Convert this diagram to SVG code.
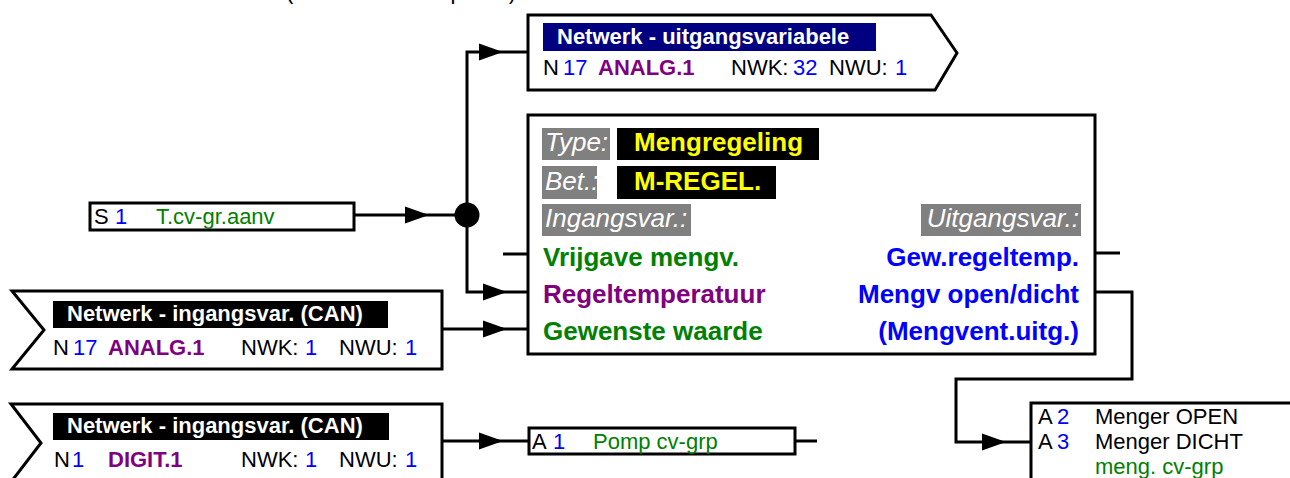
<svg xmlns="http://www.w3.org/2000/svg" width="1290" height="478" viewBox="0 0 1290 478">
  <style>
    text { font-family: "Liberation Sans", Arial, sans-serif; font-size: 22px; fill: #000; }
    .b { font-weight: bold; }
    .big { font-size: 26px; font-weight: bold; }
    .lab { font-size: 26px; font-style: italic; fill: #fff; }
    .blue { fill: #0000ff; }
    .green { fill: #008000; }
    .purple { fill: #800080; }
    .white { fill: #fff; }
    .yellow { fill: #ffff00; }
    .box { fill: #fff; stroke: #000; stroke-width: 3; }
    .wire { fill: none; stroke: #000; stroke-width: 3; }
    .grey { fill: #808080; }
    .end { text-anchor: end; }
  </style>
  <defs>
    <path id="arrow" d="M0,0 L-24,-8.5 L-24,8.5 Z" fill="#000"/>
  </defs>

  <rect width="1290" height="478" fill="#fff"/>

  <!-- heading line, mostly above the sheet edge -->
  <text x="286" y="-1" textLength="230">(Schakelschema pos. 1)</text>

  <!-- connectors -->
  <g id="connectors">
    <polyline class="wire" points="528,52 467,52 467,292 528,292"/>
    <line class="wire" x1="354" y1="215" x2="467" y2="215"/>
    <circle cx="467" cy="215" r="12.5" fill="#000"/>
    <line class="wire" x1="503" y1="254" x2="528" y2="254"/>
    <line class="wire" x1="442" y1="329" x2="528" y2="329"/>
    <line class="wire" x1="442" y1="441" x2="529" y2="441"/>
    <line class="wire" x1="795" y1="441" x2="817" y2="441"/>
    <line class="wire" x1="1095" y1="253" x2="1120" y2="253"/>
    <polyline class="wire" points="1095,292 1132,292 1132,379 956,379 956,442 1031,442"/>
    <use href="#arrow" x="503" y="52"/>
    <use href="#arrow" x="429" y="215"/>
    <use href="#arrow" x="507" y="292"/>
    <use href="#arrow" x="507" y="329"/>
    <use href="#arrow" x="503" y="441"/>
    <use href="#arrow" x="1006" y="442"/>
  </g>

  <!-- network output variable -->
  <g id="nw-out">
    <polygon class="box" points="528,15 931,15 957,53 935,90 528,90"/>
    <rect x="543" y="23" width="333" height="28" fill="#000080"/>
    <text x="557" y="44" class="b white">Netwerk - uitgangsvariabele</text>
    <text x="543" y="75">N</text>
    <text x="563" y="75" class="blue">17</text>
    <text x="598" y="75" class="b purple">ANALG.1</text>
    <text x="731" y="75">NWK:</text>
    <text x="793" y="75" class="blue">32</text>
    <text x="829" y="75">NWU:</text>
    <text x="895" y="75" class="blue">1</text>
  </g>

  <!-- sensor input S1 -->
  <g id="s1">
    <rect class="box" x="90" y="203" width="264" height="27"/>
    <text x="94" y="224">S</text>
    <text x="115" y="224" class="blue">1</text>
    <text x="156" y="224" class="green">T.cv-gr.aanv</text>
  </g>

  <!-- mixing control function -->
  <g id="mengregeling">
    <rect class="box" x="528" y="115" width="567" height="239"/>
    <rect class="grey" x="542" y="128" width="68" height="32"/>
    <text x="545" y="151" class="lab">Type:</text>
    <rect x="617" y="128" width="202" height="32" fill="#000"/>
    <text x="634" y="151" class="big yellow">Mengregeling</text>
    <rect class="grey" x="542" y="166" width="55" height="33"/>
    <text x="545" y="190" class="lab">Bet.:</text>
    <rect x="617" y="166" width="159" height="33" fill="#000"/>
    <text x="634" y="190" class="big yellow">M-REGEL.</text>
    <rect class="grey" x="542" y="204" width="149" height="32"/>
    <text x="545" y="227" class="lab">Ingangsvar.:</text>
    <rect class="grey" x="921" y="204" width="160" height="32"/>
    <text x="1079" y="227" class="lab end">Uitgangsvar.:</text>
    <text x="543" y="266" class="big green">Vrijgave mengv.</text>
    <text x="543" y="303" class="big purple">Regeltemperatuur</text>
    <text x="543" y="340" class="big green">Gewenste waarde</text>
    <text x="1079" y="266" class="big blue end">Gew.regeltemp.</text>
    <text x="1079" y="303" class="big blue end">Mengv open/dicht</text>
    <text x="1079" y="340" class="big blue end">(Mengvent.uitg.)</text>
  </g>

  <!-- network input, analog -->
  <g id="nw-in-analog">
    <polygon class="box" points="12,291 442,291 442,369 12,369 44,330"/>
    <rect x="53" y="301" width="335" height="27" fill="#000"/>
    <text x="67" y="321" class="b white">Netwerk - ingangsvar. (CAN)</text>
    <text x="53" y="355">N</text>
    <text x="73" y="355" class="blue">17</text>
    <text x="108" y="355" class="b purple">ANALG.1</text>
    <text x="241" y="355">NWK:</text>
    <text x="305" y="355" class="blue">1</text>
    <text x="339" y="355">NWU:</text>
    <text x="405" y="355" class="blue">1</text>
  </g>

  <!-- network input, digital -->
  <g id="nw-in-digital">
    <polygon class="box" points="11,404 442,404 442,482 11,482 41,443"/>
    <rect x="53" y="413" width="336" height="27" fill="#000"/>
    <text x="67" y="433" class="b white">Netwerk - ingangsvar. (CAN)</text>
    <text x="54" y="467">N</text>
    <text x="72" y="467" class="blue">1</text>
    <text x="108" y="467" class="b purple">DIGIT.1</text>
    <text x="241" y="467">NWK:</text>
    <text x="305" y="467" class="blue">1</text>
    <text x="339" y="467">NWU:</text>
    <text x="405" y="467" class="blue">1</text>
  </g>

  <!-- output A1 -->
  <g id="a1">
    <rect class="box" x="529" y="428" width="266" height="26"/>
    <text x="532" y="449">A</text>
    <text x="553" y="449" class="blue">1</text>
    <text x="593" y="449" class="green">Pomp cv-grp</text>
  </g>

  <!-- outputs A2 / A3 -->
  <g id="a2-a3">
    <rect class="box" x="1031" y="403" width="300" height="100"/>
    <text x="1038" y="424">A</text>
    <text x="1057" y="424" class="blue">2</text>
    <text x="1095" y="424">Menger OPEN</text>
    <text x="1038" y="449">A</text>
    <text x="1057" y="449" class="blue">3</text>
    <text x="1095" y="449">Menger DICHT</text>
    <text x="1095" y="474" class="green">meng. cv-grp</text>
  </g>
</svg>
